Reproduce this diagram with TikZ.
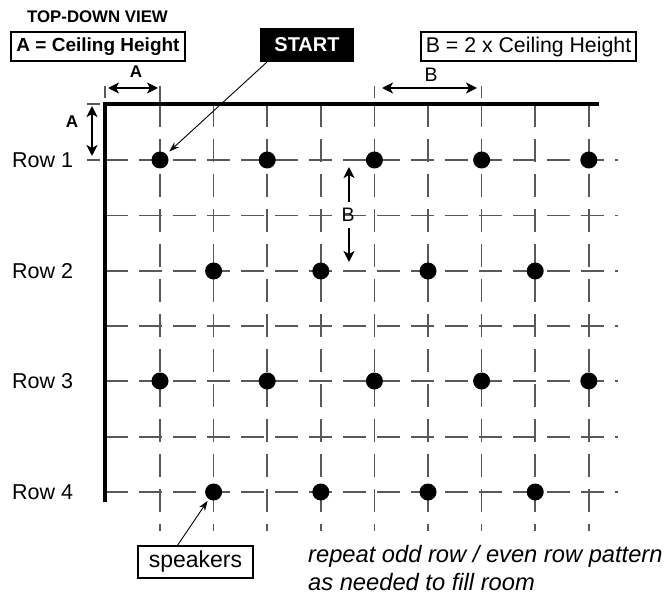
\documentclass[tikz,border=0pt]{standalone}
\usepackage{fontspec}
\setmainfont{Liberation Sans}
\usetikzlibrary{arrows.meta}
\begin{document}
\begin{tikzpicture}[x=1pt,y=-1pt,
  gridline/.style={draw=black!65, line width=1.5pt},
  hdash/.style={gridline, dash pattern=on 22.5pt off 11.5pt},
  vdash/.style={gridline, dash pattern=on 23pt off 12pt},
  wall/.style={line width=3.6pt, black, line join=miter},
  dimtip/.tip={Stealth[length=11pt,width=11pt,inset=3pt]},
  dimarrow/.style={line width=2.4pt, dimtip-dimtip},
  halfdim/.style={line width=2.4pt, -dimtip},
  thinarrow/.style={line width=0.9pt, -{Stealth[length=10pt,width=7pt]}},
  dot/.style={circle, fill=black, inner sep=0pt, minimum size=17pt},
  rowlbl/.style={anchor=west, inner sep=0pt, font=\fontsize{21.5}{24}\selectfont},
  boxlbl/.style={draw, line width=1.1pt, inner sep=0pt},
]
\useasboundingbox (0,0) rectangle (666,596);

% grid
\foreach \k in {0,...,8}
  \draw[vdash] ({160+53.6*\k},104) -- ({160+53.6*\k},531);
\foreach \yy in {160,215.5,271,326,381,437,492}
  \draw[hdash] (105,\yy) -- (618,\yy);

% extension ticks
\draw[gridline] (105,86) -- (105,98);
\draw[gridline] (160,86) -- (160,104);
\draw[gridline] (374.4,86) -- (374.4,98);
\draw[gridline] (481.6,86) -- (481.6,98);
\draw[gridline] (87,104) -- (100,104);
\draw[gridline] (87,160) -- (100,160);

% walls
\draw[wall] (105,502) -- (105,104) -- (599,104);

% speakers
\foreach \k in {0,2,4,6,8} {
  \node[dot] (r1-\k) at ({160+53.6*\k},160) {};
  \node[dot] (r3-\k) at ({160+53.6*\k},381) {};
}
\foreach \k in {1,3,5,7} {
  \node[dot] (r2-\k) at ({160+53.6*\k},271) {};
  \node[dot] (r4-\k) at ({160+53.6*\k},492) {};
}

% header texts
\node[anchor=base west, inner sep=0pt, font=\fontsize{16.8}{19}\selectfont\bfseries] (title) at (27,23) {TOP-DOWN VIEW};
\node[boxlbl, minimum width=174pt, minimum height=29pt, font=\fontsize{19}{22}\selectfont\bfseries] (boxA) at (98,46.5) {A = Ceiling Height};
\node[boxlbl, minimum width=215pt, minimum height=29pt, font=\fontsize{21.3}{24}\selectfont] (boxB) at (528.5,46.5) {B = 2 x Ceiling Height};
\node[fill=black, text=white, inner sep=0pt, minimum width=94pt, minimum height=34pt, font=\fontsize{20}{22}\selectfont\bfseries] (start) at (307,45) {START};

% row labels
\node[rowlbl] (row1) at (12,160) {Row 1};
\node[rowlbl] (row2) at (12,271) {Row 2};
\node[rowlbl] (row3) at (12,381) {Row 3};
\node[rowlbl] (row4) at (12,492) {Row 4};

% dimensions
\coordinate (ah1) at (108,88);  \coordinate (ah2) at (158,88);
\coordinate (av1) at (92,106);  \coordinate (av2) at (92,156);
\coordinate (bh1) at (382,88);  \coordinate (bh2) at (477,88);
\coordinate (bv0) at (349,202); \coordinate (bv1) at (349,167);
\coordinate (bv2) at (349,228); \coordinate (bv3) at (349,262);
\draw[dimarrow] (ah1) -- (ah2);
\draw[dimarrow] (av1) -- (av2);
\draw[dimarrow] (bh1) -- (bh2);
\draw[halfdim] (bv0) -- (bv1);
\draw[halfdim] (bv2) -- (bv3);
\node[font=\fontsize{17}{19}\selectfont\bfseries, inner sep=0pt] (lblA1) at (136,72) {A};
\node[font=\fontsize{17}{19}\selectfont\bfseries, inner sep=0pt] (lblA2) at (72,122) {A};
\node[font=\fontsize{19.5}{22}\selectfont, inner sep=0pt] (lblB1) at (431,75) {B};
\node[font=\fontsize{19.5}{22}\selectfont, inner sep=0pt] (lblB2) at (348,215) {B};

% bottom
\node[boxlbl, minimum width=115pt, minimum height=32pt, font=\fontsize{23}{26}\selectfont] (spk) at (195.5,562) {speakers};
\node[anchor=base west, inner sep=0pt, font=\fontsize{23.7}{27}\selectfont\itshape] (note1) at (308,562) {repeat odd row / even row pattern};
\node[anchor=base west, inner sep=0pt, font=\fontsize{23.7}{27}\selectfont\itshape] (note2) at (308,590) {as needed to fill room};

% pointer arrows
\draw[thinarrow, shorten >=4pt] ([xshift=7pt]start.south west) -- (r1-0);
\draw[thinarrow, shorten >=2pt] ([xshift=40pt]spk.north west) -- (r4-1);
\end{tikzpicture}
\end{document}
